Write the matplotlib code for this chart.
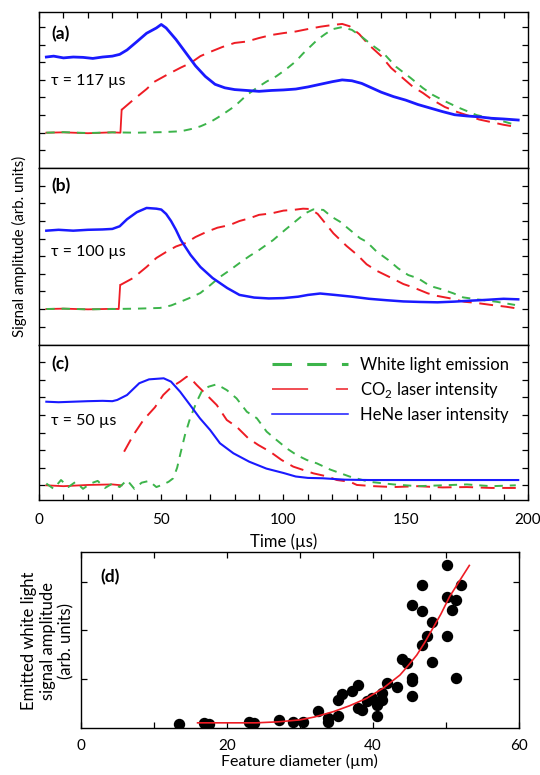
import matplotlib
matplotlib.use('Agg')
import matplotlib.pyplot as plt
from matplotlib.lines import Line2D

plt.rcParams['font.family'] = ['Lato', 'DejaVu Sans']
plt.rcParams['mathtext.fontset'] = 'custom'
plt.rcParams['mathtext.rm'] = 'Lato'
plt.rcParams['lines.scale_dashes'] = False

# ---------------- data ----------------
# panel (a), tau = 117 us  (y in tick units above the baseline)
a_blue_t = [3, 6, 10, 14, 18, 22, 26, 30, 33, 36, 40, 44, 48, 50, 52, 56, 60, 64, 68, 72, 76, 80,
            85, 90, 95, 100, 105, 110, 115, 120, 124, 128, 132, 136, 140, 145, 150, 155, 160, 165,
            170, 175, 180, 185, 190, 196]
a_blue_y = [4.3, 4.35, 4.25, 4.3, 4.28, 4.22, 4.3, 4.35, 4.45, 4.7, 5.17, 5.65, 5.95, 6.15, 5.95,
            5.3, 4.55, 3.8, 3.2, 2.75, 2.55, 2.45, 2.4, 2.35, 2.4, 2.43, 2.48, 2.6, 2.75, 2.9, 3.0,
            2.95, 2.8, 2.55, 2.3, 2.05, 1.85, 1.6, 1.4, 1.2, 1.02, 0.95, 0.9, 0.82, 0.78, 0.72]
a_red_base_t = [3, 10, 20, 30, 33.3, 33.8]
a_red_base_y = [0, 0.02, -0.03, 0.02, 0, 1.3]
a_red_t = [33.8, 38.5, 44, 47, 53, 58, 62, 66, 70, 75, 80, 85, 90, 95, 100, 105, 110, 115, 120,
           124, 127, 131, 135, 140, 144, 148, 153, 157, 161, 166, 171, 176, 180, 185, 190, 195.5]
a_red_y = [1.3, 1.86, 2.48, 2.88, 3.34, 3.7, 3.96, 4.35, 4.59, 4.87, 5.1, 5.18, 5.38, 5.55, 5.66,
           5.75, 5.89, 6.02, 6.12, 6.18, 6.05, 5.6, 4.98, 4.35, 3.68, 3.2, 2.6, 2.26, 1.86, 1.46,
           1.18, 0.95, 0.75, 0.6, 0.45, 0.32]
a_green_t = [3, 10, 20, 30, 40, 50, 58, 62, 66, 70, 73, 76, 80, 85, 89, 93, 97, 101, 105, 108, 111,
             114, 117, 120, 124, 128, 132, 136, 141, 146, 152, 157, 161, 165, 171, 179, 188, 195.5]
a_green_y = [0, 0.03, -0.02, 0.02, 0, 0.03, 0.08, 0.2, 0.36, 0.6, 0.85, 1.12, 1.5, 2.14, 2.54, 2.9,
             3.2, 3.6, 4.05, 4.5, 4.9, 5.3, 5.6, 5.88, 6.0, 5.84, 5.45, 5.0, 4.5, 3.75, 3.11, 2.54,
             2.15, 1.86, 1.46, 1.0, 0.72, 0.42]

# panel (b), tau = 100 us
b_blue_t = [3, 8, 14, 20, 26, 30, 33, 36, 40, 44, 48, 50, 52, 54, 56, 58, 62, 66, 71, 77, 82, 88,
            94, 100, 106, 110, 115, 121, 128, 135, 142, 149, 156, 163, 170, 176, 183, 190, 196]
b_blue_y = [4.45, 4.5, 4.45, 4.5, 4.52, 4.55, 4.7, 5.1, 5.5, 5.74, 5.7, 5.65, 5.4, 5.0, 4.5, 3.92,
            3.07, 2.39, 1.76, 1.19, 0.8, 0.65, 0.6, 0.62, 0.7, 0.8, 0.88, 0.8, 0.7, 0.58, 0.5,
            0.43, 0.4, 0.38, 0.42, 0.47, 0.52, 0.58, 0.55]
b_red_base_t = [3, 10, 20, 30, 32.6, 33.2]
b_red_base_y = [0, 0.02, -0.02, 0.01, 0, 1.36]
b_red_t = [33.2, 38.5, 44, 48, 52, 56, 60, 64, 68.5, 73, 78, 82, 86, 90, 95, 100, 104, 108, 111,
           114, 116, 120.4, 125.8, 130.2, 134, 138, 143.6, 149, 153, 159, 163, 168, 174, 178,
           185, 191, 197]
b_red_y = [1.36, 1.76, 2.39, 2.9, 3.24, 3.55, 3.75, 4.09, 4.38, 4.62, 4.77, 5.0, 5.15, 5.35, 5.43,
           5.59, 5.63, 5.7, 5.68, 5.4, 5.06, 4.3, 3.58, 3.07, 2.54, 2.18, 1.8, 1.42, 1.23, 0.89,
           0.74, 0.61, 0.41, 0.36, 0.23, 0.13, 0.0]
b_green_t = [3, 10, 20, 30, 40, 49.5, 54, 57.7, 62, 66, 70, 74, 78, 82, 86, 90, 95.8, 100.6, 104.7,
             108.8, 112.2, 116.3, 119.7, 123.1, 127.2, 131.3, 134, 138.1, 142.9, 146.9, 151,
             155.1, 159.9, 164.7, 169.5, 173.5, 179, 187.2, 194.7]
b_green_y = [0, 0.02, -0.02, 0.0, 0.02, 0.06, 0.2, 0.4, 0.65, 0.91, 1.35, 1.82, 2.2, 2.61, 3.0,
             3.35, 3.92, 4.49, 4.96, 5.43, 5.66, 5.63, 5.24, 4.96, 4.49, 4.02, 3.82, 3.26, 2.78,
             2.31, 1.93, 1.74, 1.31, 1.12, 0.89, 0.66, 0.55, 0.41, 0.23]

# panel (c), tau = 50 us
c_blue_t = [3, 8, 14, 20, 26, 30, 32, 36, 41, 45, 48, 51, 54, 57.7, 61.8, 65.8, 70, 74, 79.5, 86,
            93, 100, 105, 110, 116, 125, 135, 150, 165, 180, 196]
c_blue_y = [4.75, 4.72, 4.75, 4.78, 4.8, 4.78, 4.85, 5.13, 5.8, 6.02, 6.05, 6.08, 5.89, 5.32, 4.56,
            3.81, 3.14, 2.39, 1.82, 1.34, 0.95, 0.7, 0.5, 0.42, 0.4, 0.32, 0.3, 0.3, 0.3, 0.3, 0.3]
c_red_base_t = [3, 10, 20, 30, 33.8]
c_red_base_y = [0, -0.05, 0.02, 0.05, 0.0]
c_red_t = [34.8, 38.6, 42.7, 47.4, 50.8, 54.3, 57.7, 60.4, 62.5, 64.5, 68.6, 72.7, 76.8, 80.8,
           85.6, 89.7, 94.5, 99.2, 104, 108.1, 112.2, 118.3, 121.8, 127.2, 130, 137, 145, 155,
           165, 175, 185, 195]
c_red_y = [1.91, 2.86, 3.71, 4.43, 5.13, 5.6, 5.89, 6.17, 6.0, 5.7, 5.13, 4.56, 3.71, 3.33, 2.67,
           2.29, 1.91, 1.44, 1.06, 0.87, 0.68, 0.49, 0.3, 0.2, 0.02, -0.05, -0.1, -0.05, -0.12,
           -0.1, -0.15, -0.15]
c_green_t = [3, 6, 9, 12, 15, 18, 21, 24, 27, 30, 33, 36, 39, 42, 45, 48, 50.8, 53, 54.9, 56.5,
             57.7, 59.7, 61.8, 64.5, 66.5, 69.3, 72.7, 76.8, 80.8, 85, 89.1, 93.1, 97.2, 101.3,
             105.4, 109.5, 113.6, 119, 127, 135, 145, 155, 165, 175, 185, 195]
c_green_y = [0.1, -0.2, 0.3, -0.1, 0.2, -0.2, 0.1, 0.25, -0.15, 0.1, -0.1, 0.3, -0.2, 0.15, 0.25,
             -0.1, 0.05, 0.2, 0.4, 1.0, 1.72, 2.86, 3.81, 4.75, 5.32, 5.6, 5.74, 5.41, 4.94, 4.18,
             3.81, 3.05, 2.57, 2.1, 1.72, 1.44, 1.25, 0.9, 0.5, 0.2, 0.05, -0.05, 0.0, 0.05, -0.05,
             0.0]

# panel (d): white light amplitude vs feature diameter
d_x = [13.5, 16.9, 17.6, 23.0, 23.7, 27.1, 29.1, 30.4, 32.5, 33.9, 33.9, 35.2, 35.2, 35.8, 37.2,
       37.9, 37.9, 38.5, 39.2, 39.9, 40.6, 40.6, 41.3, 41.3, 41.9, 43.3, 44.0, 44.7, 45.4, 45.4,
       45.4, 45.4, 46.7, 46.7, 46.7, 47.4, 48.1, 48.1, 50.1, 50.1, 50.1, 50.8, 51.4, 51.4, 52.1]
d_y = [0.076, 0.09, 0.08, 0.11, 0.10, 0.16, 0.11, 0.11, 0.35, 0.19, 0.12, 0.57, 0.23, 0.70, 0.75,
       0.88, 0.41, 0.37, 0.55, 0.60, 0.47, 0.25, 0.72, 0.56, 0.92, 0.84, 1.41, 1.32, 1.03, 0.96,
       0.65, 2.52, 2.93, 2.40, 1.70, 1.88, 2.17, 1.34, 3.33, 2.68, 1.88, 2.42, 2.63, 1.01, 2.93]
fit_x = [16, 20, 24, 27, 30, 32, 34.6, 36.8, 39.1, 41.4, 43.7, 44.8, 46, 47.1, 48.2, 49.3, 50.5,
         51.8, 53.2]
fit_y = [0.10, 0.10, 0.10, 0.12, 0.16, 0.22, 0.33, 0.45, 0.60, 0.81, 1.08, 1.27, 1.49, 1.75, 2.04,
         2.33, 2.69, 3.0, 3.33]

RED = '#ee1c24'
GREEN = '#3cb44a'
BLUE = '#1a1aff'
W, H = 540, 775


def box(l, t, r, b):
    return [l / W, 1 - b / H, (r - l) / W, (b - t) / H]


fig = plt.figure(figsize=(W / 100, H / 100), dpi=100)

panels = [
    dict(rect=box(39, 12, 528, 168), ylim=(-2.006, 6.858), yt=range(-1, 7), lab='(a)', ly=0.859,
         tau='τ = 117 µs', ty=0.559, blue=(a_blue_t, a_blue_y), rb=(a_red_base_t, a_red_base_y),
         red=(a_red_t, a_red_y), green=(a_green_t, a_green_y), blw=2.0),
    dict(rect=box(39, 168, 528, 345), ylim=(-2.045, 8.011), yt=range(-1, 8), lab='(b)', ly=0.898,
         tau='τ = 100 µs', ty=0.527, blue=(b_blue_t, b_blue_y), rb=(b_red_base_t, b_red_base_y),
         red=(b_red_t, b_red_y), green=(b_green_t, b_green_y), blw=1.8),
    dict(rect=box(39, 345, 528, 500), ylim=(-0.835, 7.972), yt=range(0, 8), lab='(c)', ly=0.877,
         tau='τ = 50 µs', ty=0.511, blue=(c_blue_t, c_blue_y), rb=(c_red_base_t, c_red_base_y),
         red=(c_red_t, c_red_y), green=(c_green_t, c_green_y), blw=1.5),
]

axes = []
for i, p in enumerate(panels):
    ax = fig.add_axes(p['rect'])
    axes.append(ax)
    ax.plot(*p['rb'], color=RED, lw=1.3, zorder=2)
    ax.plot(*p['red'], color=RED, lw=1.4, dashes=(10, 5.5), zorder=2)
    ax.plot(*p['green'], color=GREEN, lw=1.4, dashes=(6, 5), zorder=3)
    ax.plot(*p['blue'], color=BLUE, lw=p['blw'], zorder=4)
    ax.set_xlim(0, 200)
    ax.set_ylim(*p['ylim'])
    ax.set_yticks(list(p['yt']))
    ax.set_yticklabels([])
    ax.set_xticks(range(0, 201, 10))
    ax.set_xticklabels([str(v) if v % 50 == 0 else '' for v in range(0, 201, 10)])
    ax.tick_params(axis='y', direction='in', left=True, right=True, length=4, width=0.9)
    ax.tick_params(axis='x', direction='in', length=4.5, width=0.9, top=(i == 0),
                   bottom=(i == 2), labelbottom=(i == 2), labelsize=11, pad=9)
    for s in ax.spines.values():
        s.set_linewidth(1.0)
    ax.text(0.025, p['ly'], p['lab'], transform=ax.transAxes, fontsize=12.5, fontweight='bold',
            va='center', ha='left')
    ax.text(0.025, p['ty'], p['tau'], transform=ax.transAxes, fontsize=11.5, va='center',
            ha='left')

axes[2].set_xlabel('Time (µs)', fontsize=12, labelpad=5)

handles = [Line2D([], [], color=GREEN, lw=2.2, dashes=(14, 11)),
           Line2D([], [], color=RED, lw=1.1, dashes=(26, 20)),
           Line2D([], [], color=BLUE, lw=1.1)]
axes[2].legend(handles, ['White light emission', 'CO$_2$ laser intensity', 'HeNe laser intensity'],
               loc='upper left', bbox_to_anchor=(0.476, 0.925), frameon=False, fontsize=12,
               handlelength=4.6, handletextpad=0.7, labelspacing=0.42, borderpad=0,
               borderaxespad=0)

fig.text(19 / W, 1 - 246 / H, 'Signal amplitude (arb. units)', rotation=90, fontsize=10.8,
         ha='center', va='center')

# panel (d)
axd = fig.add_axes(box(80.7, 552.3, 519, 727.7))
axd.plot(d_x, d_y, 'o', color='black', markersize=7.2, zorder=2)
axd.plot(fit_x, fit_y, color=RED, lw=1.2, zorder=3)
axd.set_xlim(0, 60)
axd.set_ylim(0, 3.6)
axd.set_xticks(range(0, 61, 10))
axd.set_xticklabels([str(v) if v % 20 == 0 else '' for v in range(0, 61, 10)])
axd.set_yticks([1, 2, 3])
axd.set_yticklabels([])
axd.tick_params(axis='both', direction='in', top=True, right=True, length=4.5, width=0.9,
                labelsize=11, pad=8)
for s in axd.spines.values():
    s.set_linewidth(1.0)
axd.set_xlabel('Feature diameter (µm)', fontsize=11.5, labelpad=1)
axd.text(0.046, 0.857, '(d)', transform=axd.transAxes, fontsize=12.5, fontweight='bold',
         va='center', ha='left')
fig.text(48 / W, 1 - 641 / H, 'Emitted white light\nsignal amplitude\n(arb. units)',
         rotation=90, fontsize=12, ha='center', va='center', multialignment='center',
         linespacing=1.2)

fig.savefig('out.png', dpi=100)
